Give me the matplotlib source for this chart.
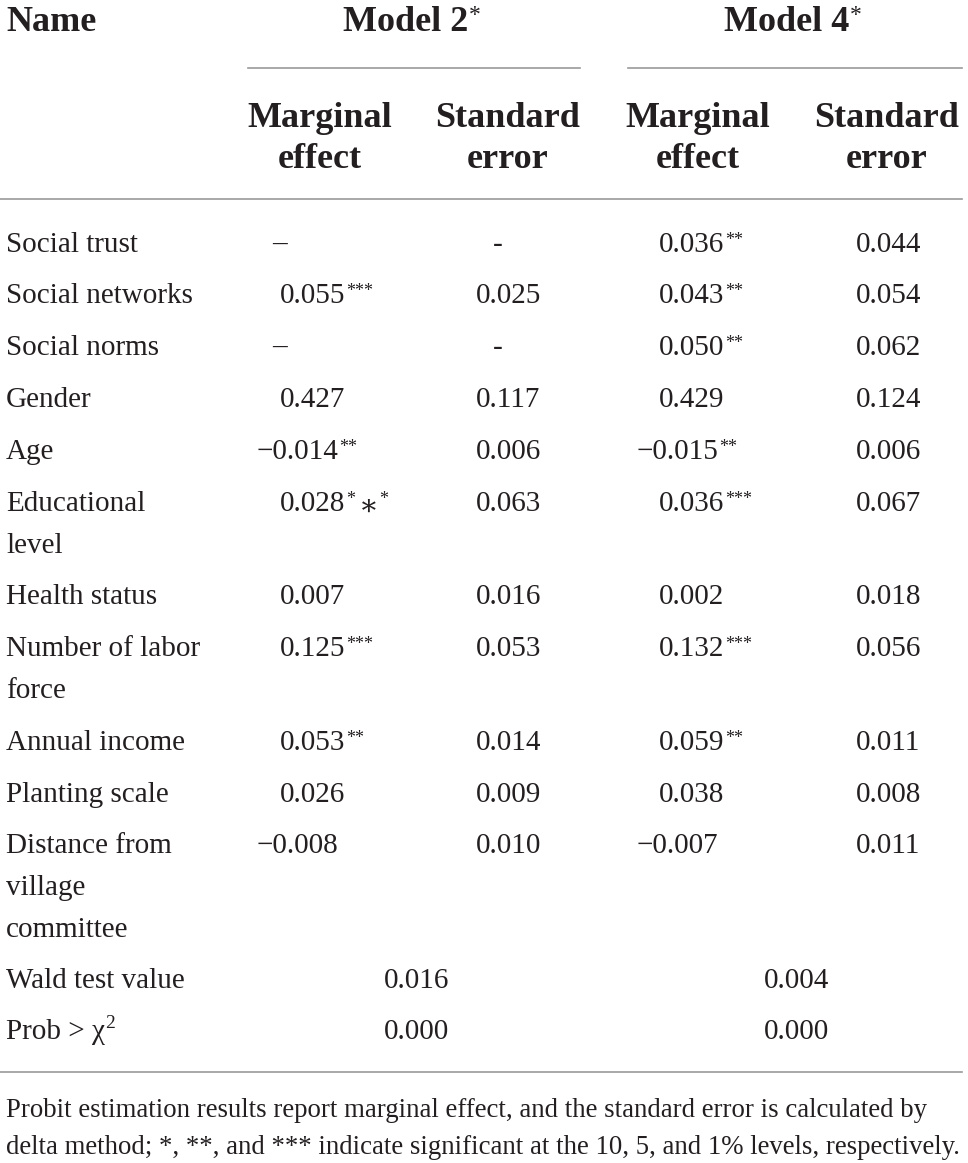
import matplotlib
matplotlib.use("Agg")
import matplotlib.pyplot as plt

# ---- data ----
names = ["Social trust", "Social networks", "Social norms", "Gender", "Age",
         "Educational\nlevel", "Health status", "Number of labor\nforce",
         "Annual income", "Planting scale", "Distance from\nvillage\ncommittee"]
m2_me = ["\u2013", "0.055", "\u2013", "0.427", "\u22120.014", "0.028", "0.007",
         "0.125", "0.053", "0.026", "\u22120.008"]
m2_sig = ["", "***", "", "", "**", "*|\u2217|*", "", "***", "**", "", ""]
m2_se = ["-", "0.025", "-", "0.117", "0.006", "0.063", "0.016", "0.053",
         "0.014", "0.009", "0.010"]
m4_me = ["0.036", "0.043", "0.050", "0.429", "\u22120.015", "0.036", "0.002",
         "0.132", "0.059", "0.038", "\u22120.007"]
m4_sig = ["**", "**", "**", "", "**", "***", "", "***", "**", "", ""]
m4_se = ["0.044", "0.054", "0.062", "0.124", "0.006", "0.067", "0.018",
         "0.056", "0.011", "0.008", "0.011"]
stat_names = ["Wald test value", "Prob > \u03c7"]
stat_m2 = ["0.016", "0.000"]
stat_m4 = ["0.004", "0.000"]
footnote = ["Probit estimation results report marginal effect, and the standard error is calculated by",
            "delta method; *, **, and *** indicate significant at the 10, 5, and 1% levels, respectively."]

W, H = 968, 1163
fig = plt.figure(figsize=(W / 100, H / 100), dpi=100)
ax = fig.add_axes([0, 0, 1, 1])
ax.set_xlim(0, W)
ax.set_ylim(H, 0)
ax.axis("off")

FONT = ["Liberation Serif", "DejaVu Serif", "DejaVu Sans"]
FS = 21
FS_SUP = 13
FS_HEAD = 26
COL = "#231f20"
LINEC = "#9a9a9a"


def sup(artist, s, fs=FS_SUP, dy=0):
    return ax.annotate(s, xy=(1, 1), xycoords=artist, xytext=(0.3, dy),
                       textcoords="offset points", ha="left", va="top",
                       fontsize=fs, family=FONT, color=COL)


def value(x, y, s, sig):
    t = ax.text(x, y, s, ha="left", va="baseline", fontsize=FS, family=FONT, color=COL)
    if sig:
        if "|" in sig:
            parts = sig.split("|")
            a = sup(t, parts[0])
            b = ax.annotate(parts[1], xy=(1, 1), xycoords=a, xytext=(3, -3),
                            textcoords="offset points", ha="left", va="top",
                            fontsize=FS, family=FONT, color=COL)
            sup(b, parts[2], dy=3)
        else:
            sup(t, sig)


# header
ax.text(6, 31, "Name", ha="left", va="baseline", fontsize=FS_HEAD,
        family=FONT, weight="bold", color=COL)
for cx, lab in [(406, "Model 2"), (787, "Model 4")]:
    t = ax.text(cx, 31, lab, ha="center", va="baseline", fontsize=FS_HEAD,
                family=FONT, weight="bold", color=COL)
    sup(t, "*", fs=17, dy=1)
ax.plot([248, 580], [68, 68], color=LINEC, lw=1.2)
ax.plot([628, 962], [68, 68], color=LINEC, lw=1.2)
for cx, l1, l2 in [(320, "Marginal", "effect"), (508, "Standard", "error"),
                   (698, "Marginal", "effect"), (887, "Standard", "error")]:
    ax.text(cx, 127, l1, ha="center", va="baseline", fontsize=FS_HEAD,
            family=FONT, weight="bold", color=COL)
    ax.text(cx, 168, l2, ha="center", va="baseline", fontsize=FS_HEAD,
            family=FONT, weight="bold", color=COL)
ax.plot([0, 962], [199, 199], color=LINEC, lw=1.2)

# body rows
baselines = [252, 303, 355, 407, 459, 511, 604, 656, 750, 802, 853]
LS = 42
for i, y in enumerate(baselines):
    for k, line in enumerate(names[i].split("\n")):
        ax.text(6, y + k * LS, line, ha="left", va="baseline", fontsize=FS,
                family=FONT, color=COL)
    x1 = 280 if not m2_me[i].startswith("\u2212") else 257
    if m2_me[i] == "\u2013":
        x1 = 272
    value(x1, y, m2_me[i], m2_sig[i])
    value(493 if m2_se[i] == "-" else 476, y, m2_se[i], "")
    x3 = 659 if not m4_me[i].startswith("\u2212") else 637
    value(x3, y, m4_me[i], m4_sig[i])
    value(856, y, m4_se[i], "")

stat_base = [988, 1039]
for i, y in enumerate(stat_base):
    t = ax.text(6, y, stat_names[i], ha="left", va="baseline", fontsize=FS,
                family=FONT, color=COL)
    if i == 1:
        sup(t, "2", fs=14, dy=3)
    ax.text(384, y, stat_m2[i], ha="left", va="baseline", fontsize=FS,
            family=FONT, color=COL)
    ax.text(764, y, stat_m4[i], ha="left", va="baseline", fontsize=FS,
            family=FONT, color=COL)
ax.plot([0, 962], [1072, 1072], color=LINEC, lw=1.2)

for k, line in enumerate(footnote):
    ax.text(6, 1117 + k * 37, line, ha="left", va="baseline", fontsize=19.3,
            family=FONT, color=COL)

fig.savefig("out.png", dpi=100)
